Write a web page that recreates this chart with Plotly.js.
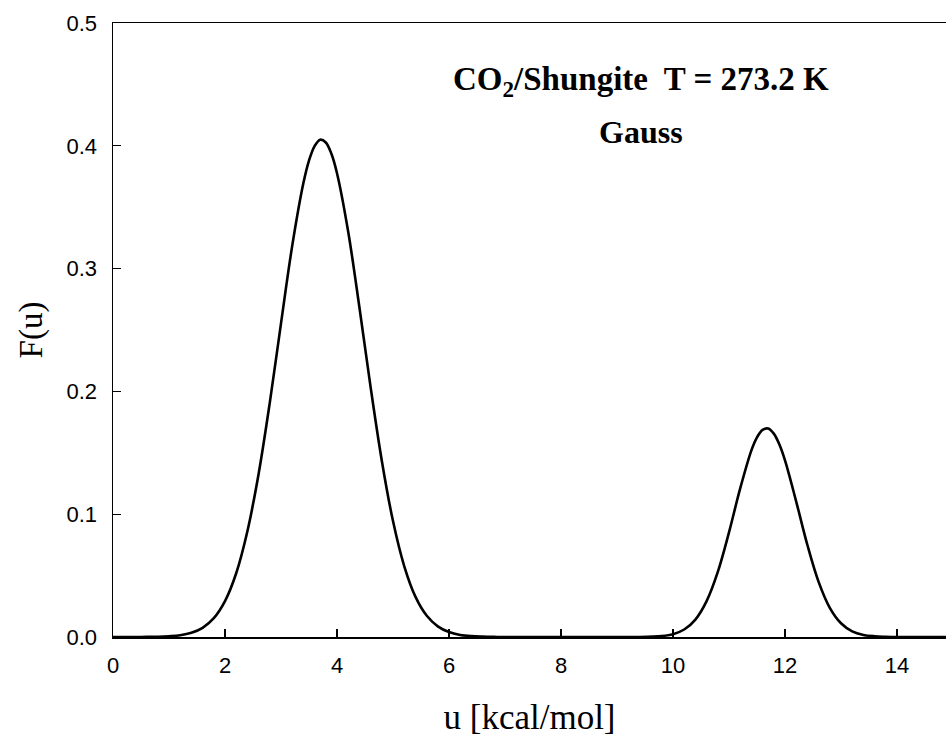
<!DOCTYPE html>
<html>
<head>
<meta charset="utf-8">
<script src="https://cdn.plot.ly/plotly-3.0.1.min.js"></script>
<style>html,body{margin:0;padding:0;background:#fff;}#chart{width:946px;height:738px;}</style>
</head>
<body>
<div id="chart"></div>
<script>
// Energy u [kcal/mol]
const uValues = [
  0.0, 0.2, 0.4, 0.6, 0.8, 1.0, 1.2, 1.4, 1.6, 1.8,
  2.0, 2.2, 2.4, 2.6, 2.8, 3.0, 3.2, 3.4, 3.5, 3.6, 3.7, 3.8, 3.9,
  4.0, 4.2, 4.4, 4.6, 4.8, 5.0, 5.2, 5.4, 5.6, 5.8,
  6.0, 6.2, 6.4, 6.6, 6.8, 7.0, 7.4, 7.8, 8.2, 8.6,
  9.0, 9.4, 9.8, 10.0, 10.2, 10.4, 10.6, 10.8, 11.0, 11.2,
  11.4, 11.5, 11.6, 11.7, 11.8, 11.9, 12.0, 12.2, 12.4, 12.6, 12.8, 13.0,
  13.2, 13.4, 13.6, 13.8, 14.0, 14.4, 14.9
];
// Distribution F(u)
const fValues = [
  0.0000, 0.0000, 0.0000, 0.0001, 0.0002, 0.0006, 0.0014, 0.0034, 0.0075, 0.0153,
  0.0292, 0.0519, 0.0861, 0.1328, 0.1909, 0.2554, 0.3185, 0.3697, 0.3880, 0.3998, 0.4050, 0.4027, 0.3935,
  0.3777, 0.3300, 0.2685, 0.2035, 0.1436, 0.0944, 0.0578, 0.0329, 0.0175, 0.0087,
  0.0040, 0.0017, 0.0007, 0.0003, 0.0001, 0.0000, 0.0000, 0.0000, 0.0000, 0.0000,
  0.0000, 0.0000, 0.0008, 0.0023, 0.0061, 0.0142, 0.0292, 0.0530, 0.0852, 0.1210,
  0.1520, 0.1626, 0.1687, 0.1698, 0.1656, 0.1567, 0.1438, 0.1103, 0.0749, 0.0449, 0.0238, 0.0112,
  0.0046, 0.0017, 0.0006, 0.0002, 0.0000, 0.0000, 0.0000
];
const xTicks = [0, 2, 4, 6, 8, 10, 12, 14];
const yTicks = [0.0, 0.1, 0.2, 0.3, 0.4, 0.5];
const yTickLabels = ['0.0', '0.1', '0.2', '0.3', '0.4', '0.5'];

const trace = {
  x: uValues, y: fValues, type: 'scatter', mode: 'lines',
  line: {color: '#000', width: 2.6, shape: 'spline', smoothing: 1},
  hoverinfo: 'skip', showlegend: false
};

const layout = {
  width: 946, height: 738,
  margin: {l: 113, r: 0, t: 23, b: 101},
  paper_bgcolor: '#fff', plot_bgcolor: '#fff',
  showlegend: false,
  xaxis: {
    range: [0, 14.875], tickvals: xTicks, ticktext: xTicks.map(String),
    ticks: 'inside', ticklen: 8, tickwidth: 1.3, tickcolor: '#000',
    showline: true, linecolor: '#000', linewidth: 1.5, mirror: true,
    showgrid: false, zeroline: false, ticklabelstandoff: 8,
    tickfont: {family: 'Liberation Sans, Arial, sans-serif', size: 22, color: '#000'},
    title: {text: 'u [kcal/mol]', standoff: 27,
      font: {family: 'Liberation Serif, Times New Roman, serif', size: 35, color: '#000'}}
  },
  yaxis: {
    range: [0, 0.5], tickvals: yTicks, ticktext: yTickLabels,
    ticks: 'inside', ticklen: 8, tickwidth: 1.3, tickcolor: '#000',
    showline: true, linecolor: '#000', linewidth: 1.5, mirror: false,
    showgrid: false, zeroline: false, ticklabelstandoff: 10,
    tickfont: {family: 'Liberation Sans, Arial, sans-serif', size: 22, color: '#000'},
    title: {text: 'F(u)', standoff: 14,
      font: {family: 'Liberation Serif, Times New Roman, serif', size: 33, color: '#000'}}
  },
  annotations: [
    {x: 9.43, y: 0.452, xref: 'x', yref: 'y', showarrow: false,
     text: '<b>CO<sub style="font-size:28px">2</sub>/Shungite  T = 273.2 K</b>',
     font: {family: 'Liberation Serif, Times New Roman, serif', size: 33, color: '#000'},
     xanchor: 'center', yanchor: 'middle'},
    {x: 9.43, y: 0.411, xref: 'x', yref: 'y', showarrow: false,
     text: '<b>Gauss</b>',
     font: {family: 'Liberation Serif, Times New Roman, serif', size: 32, color: '#000'},
     xanchor: 'center', yanchor: 'middle'}
  ]
};

Plotly.newPlot('chart', [trace], layout, {staticPlot: true, displayModeBar: false});
</script>
</body>
</html>
